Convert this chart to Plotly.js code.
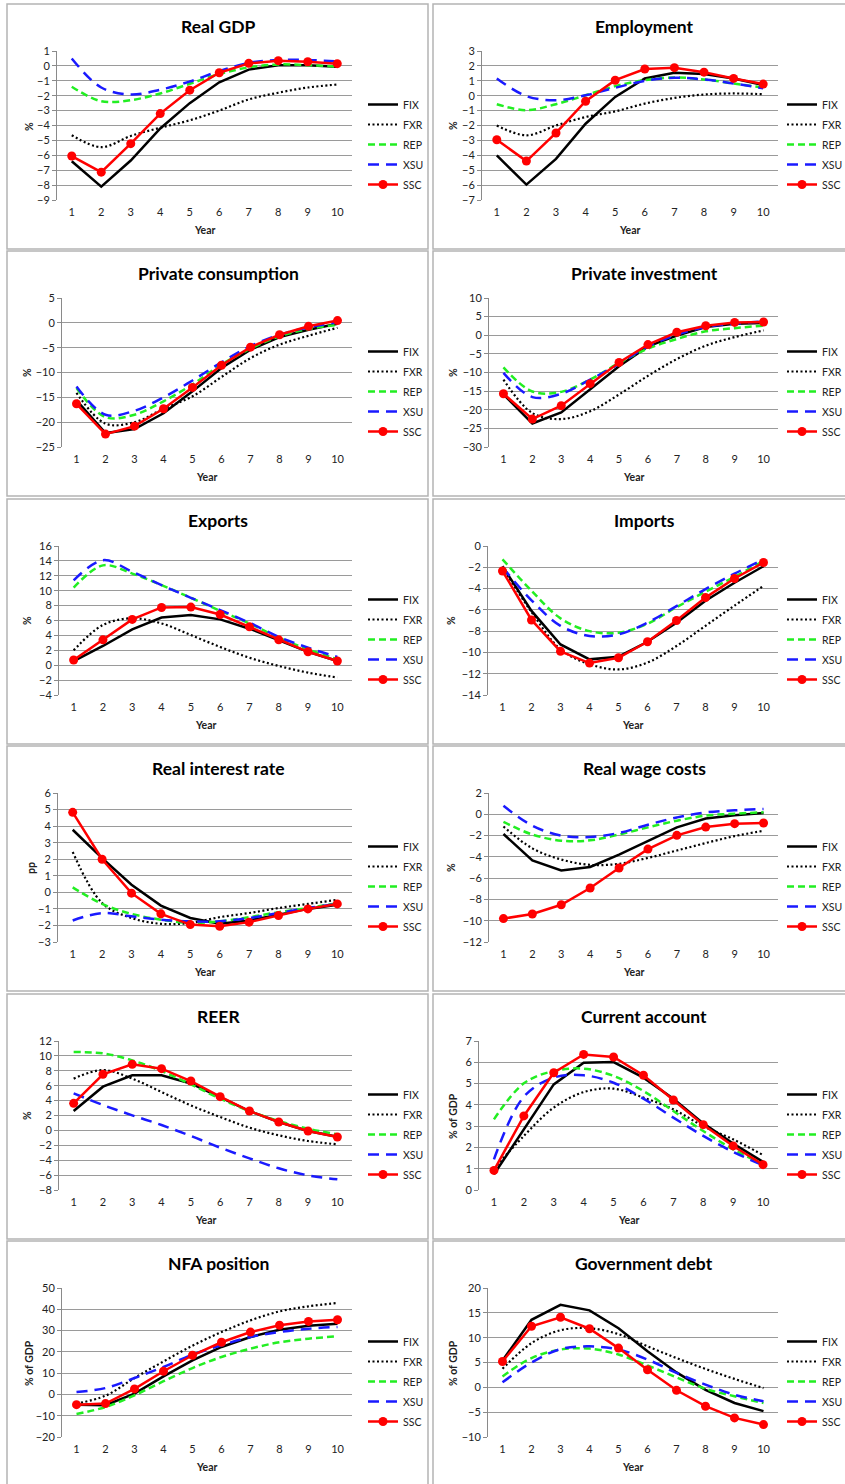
<!DOCTYPE html>
<html><head><meta charset="utf-8">
<script src="https://cdn.plot.ly/plotly-3.0.1.min.js"></script>
<style>html,body{margin:0;padding:0;background:#fff;overflow:hidden;width:845px;height:1484px}#chart{width:845px;height:1484px;overflow:hidden}</style>
</head><body>
<div id="chart"></div>
<script>
// ---------------- DATA ----------------
const years = [1,2,3,4,5,6,7,8,9,10];
const seriesNames = ['FIX','FXR','REP','XSU','SSC'];
const panelTitles = ['Real GDP','Employment','Private consumption','Private investment','Exports','Imports','Real interest rate','Real wage costs','REER','Current account','NFA position','Government debt'];
const yTitles = ['%','%','%','%','%','%','pp','%','%','% of GDP','% of GDP','% of GDP'];
const xTitle = 'Year';

const gdp_FIX = [-6.4,-8.1,-6.35,-4.2,-2.5,-1.1,-0.25,0.05,0.05,-0.05];
const gdp_FXR = [-4.65,-5.45,-4.7,-4.15,-3.65,-3.0,-2.25,-1.8,-1.45,-1.25];
const gdp_REP = [-1.4,-2.37,-2.3,-1.85,-1.2,-0.55,-0.1,0.1,0.05,-0.05];
const gdp_XSU = [0.5,-1.45,-1.92,-1.6,-1.05,-0.35,0.2,0.4,0.4,0.3];
const gdp_SSC = [-6.05,-7.13,-5.22,-3.2,-1.63,-0.46,0.17,0.35,0.28,0.15];

const emp_FIX = [-4.0,-5.97,-4.24,-1.88,-0.08,1.16,1.54,1.45,1.15,0.72];
const emp_FXR = [-2.0,-2.66,-2.0,-1.43,-1.05,-0.53,-0.15,0.08,0.15,0.1];
const emp_REP = [-0.57,-0.97,-0.57,0.03,0.64,1.04,1.22,1.09,0.82,0.55];
const emp_XSU = [1.16,-0.03,-0.3,0.03,0.53,1.0,1.2,1.09,0.82,0.5];
const emp_SSC = [-2.96,-4.39,-2.5,-0.37,1.04,1.79,1.88,1.58,1.16,0.78];

const cons_FIX = [-15.6,-22.2,-21.4,-18.2,-13.8,-9.1,-5.4,-2.85,-1.4,-0.2];
const cons_FXR = [-14.1,-20.3,-20.0,-17.3,-14.8,-10.9,-7.1,-4.4,-2.6,-1.0];
const cons_REP = [-13.1,-19.0,-18.5,-15.8,-12.4,-8.4,-5.2,-2.7,-1.25,-0.4];
const cons_XSU = [-12.8,-18.5,-17.7,-15.0,-11.6,-7.95,-4.7,-2.4,-0.9,0.1];
const cons_SSC = [-16.3,-22.4,-20.8,-17.3,-13.0,-8.55,-4.9,-2.4,-0.7,0.45];

const inv_FIX = [-15.9,-23.7,-20.7,-14.6,-8.3,-3.0,-0.1,2.2,3.1,3.3];
const inv_FXR = [-11.9,-20.9,-22.5,-20.4,-15.9,-10.9,-6.4,-2.8,-0.5,1.3];
const inv_REP = [-8.6,-15.1,-15.2,-11.9,-7.45,-3.6,-1.0,1.05,1.9,2.6];
const inv_XSU = [-10.1,-16.6,-15.7,-11.9,-7.7,-3.0,0.15,2.2,3.1,3.7];
const inv_SSC = [-15.7,-22.5,-18.9,-13.0,-7.3,-2.5,0.8,2.55,3.45,3.55];

const exp_FIX = [0.56,2.58,4.8,6.4,6.75,6.15,4.9,3.4,1.8,0.56];
const exp_FXR = [2.0,5.4,6.3,5.6,4.05,2.45,1.0,-0.1,-1.0,-1.65];
const exp_REP = [10.4,13.4,12.3,10.75,9.05,7.3,5.6,3.7,2.1,0.8];
const exp_XSU = [11.4,14.1,12.55,10.75,9.05,7.4,5.7,3.8,2.35,1.1];
const exp_SSC = [0.7,3.4,6.15,7.75,7.8,6.8,5.15,3.4,1.8,0.56];

const imp_FIX = [-1.9,-6.1,-9.25,-10.65,-10.4,-9.0,-7.2,-5.15,-3.45,-1.9];
const imp_FXR = [-2.0,-6.2,-9.7,-11.1,-11.6,-10.95,-9.4,-7.5,-5.6,-3.75];
const imp_REP = [-1.25,-4.2,-6.8,-8.0,-8.15,-7.3,-5.75,-4.3,-2.9,-1.4];
const imp_XSU = [-2.0,-5.1,-7.5,-8.45,-8.3,-7.2,-5.65,-4.05,-2.6,-1.25];
const imp_SSC = [-2.35,-6.95,-9.9,-11.0,-10.5,-9.0,-7.0,-4.85,-3.05,-1.55];

const rir_FIX = [3.78,2.07,0.46,-0.8,-1.55,-1.9,-1.7,-1.35,-1.0,-0.75];
const rir_FXR = [2.44,-0.64,-1.55,-1.9,-1.85,-1.5,-1.25,-0.95,-0.7,-0.45];
const rir_REP = [0.3,-0.7,-1.3,-1.65,-1.85,-1.75,-1.5,-1.2,-0.95,-0.65];
const rir_XSU = [-1.7,-1.25,-1.45,-1.65,-1.75,-1.75,-1.55,-1.25,-0.95,-0.7];
const rir_SSC = [4.83,2.0,-0.05,-1.3,-1.95,-2.05,-1.8,-1.4,-1.0,-0.7];

const wage_FIX = [-1.85,-4.33,-5.27,-4.95,-3.8,-2.48,-1.23,-0.4,-0.1,0.12];
const wage_FXR = [-1.15,-3.2,-4.25,-4.75,-4.65,-4.1,-3.4,-2.7,-2.05,-1.55];
const wage_REP = [-0.72,-1.9,-2.48,-2.45,-1.9,-1.23,-0.6,-0.13,0.06,0.18];
const wage_XSU = [0.8,-1.07,-2.0,-2.13,-1.75,-0.98,-0.3,0.18,0.37,0.5];
const wage_SSC = [-9.8,-9.37,-8.5,-6.93,-5.05,-3.27,-1.98,-1.2,-0.88,-0.82];

const reer_FIX = [2.6,5.87,7.4,7.4,6.3,4.4,2.6,1.13,-0.08,-0.85];
const reer_FXR = [6.95,8.1,6.95,5.15,3.36,1.8,0.37,-0.66,-1.42,-1.87];
const reer_REP = [10.52,10.34,9.4,7.97,6.18,4.26,2.6,1.26,0.23,-0.53];
const reer_XSU = [4.98,3.41,2.02,0.72,-0.75,-2.32,-3.75,-5.09,-6.03,-6.57];
const reer_SSC = [3.63,7.53,8.87,8.29,6.63,4.53,2.6,1.13,-0.08,-0.89];

const ca_FIX = [0.74,2.85,4.96,5.98,6.01,5.28,4.29,3.13,2.18,1.32];
const ca_FXR = [1.0,2.54,3.87,4.6,4.76,4.34,3.79,3.0,2.38,1.64];
const ca_REP = [3.32,5.01,5.59,5.7,5.36,4.65,3.71,2.77,1.91,1.2];
const ca_XSU = [1.44,4.38,5.28,5.39,5.04,4.29,3.4,2.54,1.79,1.16];
const ca_SSC = [0.92,3.48,5.51,6.37,6.25,5.39,4.23,3.07,2.07,1.19];

const nfa_FIX = [-4.8,-5.1,0.4,8.5,16.0,22.3,27.0,30.4,32.3,33.2];
const nfa_FXR = [-4.3,-0.6,7.7,15.5,22.9,29.3,34.8,39.0,41.4,43.0];
const nfa_REP = [-9.2,-5.9,-0.4,6.2,12.4,17.6,21.5,24.5,26.2,27.3];
const nfa_XSU = [1.1,3.0,7.7,12.9,18.7,23.1,27.0,29.3,30.9,31.7];
const nfa_SSC = [-4.8,-4.3,2.6,10.9,18.4,24.5,29.3,32.5,34.3,35.1];

const debt_FIX = [5.4,13.6,16.6,15.5,11.9,7.25,3.0,-0.5,-3.15,-4.8];
const debt_FXR = [3.75,8.9,11.5,11.9,10.7,8.25,5.9,3.7,1.7,-0.15];
const debt_REP = [2.2,5.9,7.6,7.8,6.6,4.4,2.0,-0.3,-1.8,-3.15];
const debt_XSU = [1.0,5.0,7.7,8.25,7.6,5.6,2.9,0.55,-1.5,-2.8];
const debt_SSC = [5.2,12.3,14.1,11.8,7.9,3.55,-0.6,-3.8,-6.15,-7.5];

const panelData = [
  [gdp_FIX, gdp_FXR, gdp_REP, gdp_XSU, gdp_SSC],
  [emp_FIX, emp_FXR, emp_REP, emp_XSU, emp_SSC],
  [cons_FIX, cons_FXR, cons_REP, cons_XSU, cons_SSC],
  [inv_FIX, inv_FXR, inv_REP, inv_XSU, inv_SSC],
  [exp_FIX, exp_FXR, exp_REP, exp_XSU, exp_SSC],
  [imp_FIX, imp_FXR, imp_REP, imp_XSU, imp_SSC],
  [rir_FIX, rir_FXR, rir_REP, rir_XSU, rir_SSC],
  [wage_FIX, wage_FXR, wage_REP, wage_XSU, wage_SSC],
  [reer_FIX, reer_FXR, reer_REP, reer_XSU, reer_SSC],
  [ca_FIX, ca_FXR, ca_REP, ca_XSU, ca_SSC],
  [nfa_FIX, nfa_FXR, nfa_REP, nfa_XSU, nfa_SSC],
  [debt_FIX, debt_FXR, debt_REP, debt_XSU, debt_SSC]
];

// ---------------- STYLE / LAYOUT ----------------
const yRanges = [[-9,1],[-7,3],[-25,5],[-30,10],[-4,16],[-14,0],[-3,6],[-12,2],[-8,12],[0,7],[-20,50],[-10,20]];
const yDticks = [1,1,5,5,2,2,1,2,2,1,10,5];
const plotLefts = [57,482,62,489,59,488,58,489,59,479,62,488];
const yTitleX = [29,453,27,453,27,451,31,451,27,453,29,453];
const rowTops = [4,251,499,746,994,1241];
const W = 845, H = 1484;
const FONT = 'Lato, Carlito, Calibri, "Open Sans", sans-serif';
const styles = {
  FIX: {line:{color:'#000000', width:2.5}, mode:'lines'},
  FXR: {line:{color:'#000000', width:2.2, dash:'2px,2.5px', shape:'spline', smoothing:1}, mode:'lines'},
  REP: {line:{color:'#22ee22', width:2.5, dash:'7px,4px', shape:'spline', smoothing:1}, mode:'lines'},
  XSU: {line:{color:'#1a1aff', width:2.5, dash:'11px,7px', shape:'spline', smoothing:1}, mode:'lines'},
  SSC: {line:{color:'#ff0000', width:2.5}, mode:'lines+markers', marker:{color:'#ff0000', size:9, symbol:'circle'}}
};
const px = v => v / W;
const py = v => 1 - v / H;

const traces = [];
const layout = {
  width: W, height: H,
  margin: {l:0, r:0, t:0, b:0, pad:0, autoexpand:false},
  paper_bgcolor: '#ffffff', plot_bgcolor: '#ffffff',
  font: {family: FONT, color: '#222'},
  hovermode: false,
  annotations: [], shapes: []
};

for (let i = 0; i < 12; i++) {
  const col = i % 2, row = Math.floor(i / 2);
  const T = rowTops[row];
  const L = col === 0 ? 7 : 433;
  const pl = plotLefts[i];
  const pr = col === 0 ? 352 : 778;
  const top = T + 47, bot = T + 196;
  const xk = i === 0 ? 'xaxis' : 'xaxis' + (i + 1);
  const yk = i === 0 ? 'yaxis' : 'yaxis' + (i + 1);
  const xr = i === 0 ? 'x' : 'x' + (i + 1);
  const yr = i === 0 ? 'y' : 'y' + (i + 1);
  const lg = i === 0 ? 'legend' : 'legend' + (i + 1);

  layout[xk] = {
    domain: [px(pl), px(pr)], anchor: yr, range: [0.5, 10.5],
    tickmode: 'array', tickvals: years, ticktext: years.map(String),
    showgrid: false, zeroline: false, showline: false, ticks: '',
    ticklabelstandoff: 4,
    tickfont: {size: 11, family: FONT, color: '#222'}, fixedrange: true
  };
  layout[yk] = {
    domain: [py(bot), py(top)], anchor: xr, range: yRanges[i],
    tick0: yRanges[i][0], dtick: yDticks[i],
    showgrid: true, gridcolor: '#9a9a9a', gridwidth: 1,
    zeroline: false, showline: true, linecolor: '#8a8a8a', linewidth: 1,
    ticks: 'outside', ticklen: 4, tickcolor: '#8a8a8a',
    tickfont: {size: 11, family: FONT, color: '#222'}, fixedrange: true
  };
  layout[lg] = {
    x: px(col === 0 ? 363 : 782), y: py(T + 86), xanchor: 'left', yanchor: 'top',
    bgcolor: 'rgba(0,0,0,0)', borderwidth: 0,
    font: {size: 10.5, family: FONT, color: '#222'},
    itemwidth: 30, tracegroupgap: 1, traceorder: 'grouped'
  };

  seriesNames.forEach((name, k) => {
    const st = styles[name];
    const t = {
      type: 'scatter', x: years, y: panelData[i][k], name: name,
      xaxis: xr, yaxis: yr, legend: lg, legendgroup: 'p' + i + name,
      mode: st.mode, line: st.line, showlegend: true
    };
    if (st.marker) t.marker = st.marker;
    traces.push(t);
  });

  // panel border
  layout.shapes.push({type:'rect', xref:'paper', yref:'paper',
    x0: px(L), x1: px(L + 421), y0: py(T + 245), y1: py(T),
    line: {color:'#b4b4b4', width:1.5}, fillcolor:'rgba(0,0,0,0)', layer:'below'});

  // titles
  layout.annotations.push({text: '<b>' + panelTitles[i] + '</b>', xref:'paper', yref:'paper',
    x: px(L + 211), y: py(T + 22), xanchor:'center', yanchor:'middle', showarrow:false,
    font:{size:17.5, family:FONT, color:'#000'}});
  layout.annotations.push({text: '<b>' + xTitle + '</b>', xref:'paper', yref:'paper',
    x: px((pl + pr) / 2), y: py(T + 226), xanchor:'center', yanchor:'middle', showarrow:false,
    font:{size:10.5, family:FONT, color:'#222'}});
  layout.annotations.push({text: '<b>' + yTitles[i] + '</b>', xref:'paper', yref:'paper',
    x: px(yTitleX[i]), y: py(T + 122), xanchor:'center', yanchor:'middle', showarrow:false,
    textangle: -90, font:{size:10.5, family:FONT, color:'#222'}});
}

Plotly.newPlot('chart', traces, layout, {staticPlot: true, displayModeBar: false});
</script>
</body></html>
